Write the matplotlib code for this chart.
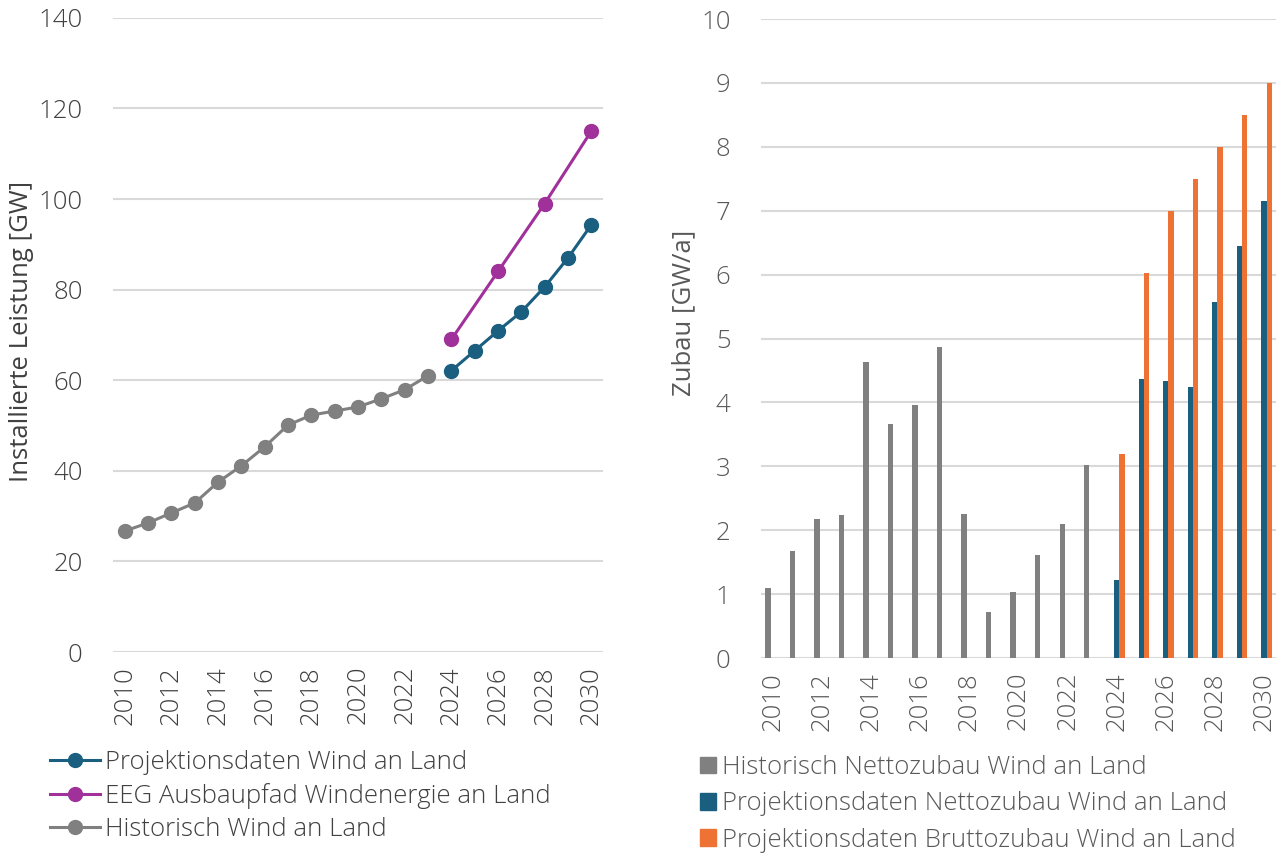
import matplotlib.pyplot as plt
from matplotlib.lines import Line2D
from matplotlib.patches import Patch

plt.rcParams['font.family'] = ['Open Sans', 'DejaVu Sans']
plt.rcParams['font.weight'] = 'light'

years_hist = list(range(2010, 2024))
years_proj = list(range(2024, 2031))
years_eeg = [2024, 2026, 2028, 2030]

hist_installed = [26.7, 28.5, 30.7, 32.9, 37.5, 41.1, 45.3, 50.1, 52.3, 53.2, 54.1, 55.9, 57.9, 61.0]
proj_installed = [62.1, 66.5, 70.9, 75.1, 80.6, 87.0, 94.3]
eeg_path = [69, 84, 99, 115]

hist_net = [1.10, 1.67, 2.18, 2.24, 4.63, 3.66, 3.96, 4.87, 2.25, 0.72, 1.03, 1.61, 2.10, 3.02]
proj_net = [1.22, 4.37, 4.34, 4.24, 5.57, 6.45, 7.15]
proj_gross = [3.2, 6.03, 7.0, 7.5, 8.0, 8.5, 9.0]

c_blue = '#1a5f80'
c_purple = '#a0309a'
c_gray = '#808080'
c_orange = '#ed7234'
c_grid = '#d9d9d9'
fs = 18.5

fig = plt.figure(figsize=(12.86, 8.57), dpi=100)

# left: installed capacity
ax1 = fig.add_axes([0.0879, 0.2392, 0.381, 0.740])
ax1.plot(years_hist, hist_installed, color=c_gray, lw=2.2, marker='o', ms=10, zorder=3)
ax1.plot(years_proj, proj_installed, color=c_blue, lw=2.2, marker='o', ms=10, zorder=3)
ax1.plot(years_eeg, eeg_path, color=c_purple, lw=2.2, marker='o', ms=10, zorder=3)
ax1.set_xlim(2009.5, 2030.5)
ax1.set_ylim(0, 140)
ax1.set_yticks(range(0, 141, 20))
ax1.set_xticks(range(2010, 2031, 2))
ax1.tick_params(axis='x', labelrotation=90, pad=10)
ax1.tick_params(axis='y', pad=22)
ax1.set_ylabel('Installierte Leistung [GW]', fontsize=fs, color='#404040')
ax1.yaxis.set_label_coords(-0.161, 0.506)
ax1.grid(axis='y', color=c_grid, lw=1.5)
ax1.set_axisbelow(True)
ax1.tick_params(length=0, labelsize=fs, labelcolor='#404040')
for s in ax1.spines.values():
    s.set_visible(False)

h1 = [Line2D([], [], color=c_blue, lw=2.2, marker='o', ms=10),
      Line2D([], [], color=c_purple, lw=2.2, marker='o', ms=10),
      Line2D([], [], color=c_gray, lw=2.2, marker='o', ms=10)]
fig.legend(h1, ['Projektionsdaten Wind an Land', 'EEG Ausbaupfad Windenergie an Land',
                'Historisch Wind an Land'],
           loc='upper left', bbox_to_anchor=(0.031, 0.137), frameon=False,
           fontsize=fs, handlelength=1.95, handletextpad=0.2, labelspacing=0.32,
           borderaxespad=0, labelcolor='#404040')

# right: annual additions
ax2 = fig.add_axes([0.5918, 0.2322, 0.4005, 0.7456])
w = 0.22
ax2.bar([y - w for y in years_hist], hist_net, width=w, color=c_gray)
ax2.bar(years_proj, proj_net, width=w, color=c_blue)
ax2.bar([y + w for y in years_proj], proj_gross, width=w, color=c_orange)
ax2.set_xlim(2009.5, 2030.5)
ax2.set_ylim(0, 10)
ax2.set_yticks(range(0, 11))
ax2.set_xticks(range(2010, 2031, 2))
ax2.tick_params(axis='x', labelrotation=90, pad=10)
ax2.tick_params(axis='y', pad=22)
ax2.set_ylabel('Zubau [GW/a]', fontsize=fs, color='#595959')
ax2.yaxis.set_label_coords(-0.125, 0.54)
ax2.grid(axis='y', color=c_grid, lw=1.5)
ax2.set_axisbelow(True)
ax2.tick_params(length=0, labelsize=fs, labelcolor='#595959')
for s in ax2.spines.values():
    s.set_visible(False)

h2 = [Patch(color=c_gray), Patch(color=c_blue), Patch(color=c_orange)]
fig.legend(h2, ['Historisch Nettozubau Wind an Land', 'Projektionsdaten Nettozubau Wind an Land',
                'Projektionsdaten Bruttozubau Wind an Land'],
           loc='upper left', bbox_to_anchor=(0.536, 0.131), frameon=False,
           fontsize=fs, handlelength=0.62, handleheight=0.62, handletextpad=0.27,
           labelspacing=0.44, borderaxespad=0, labelcolor='#595959')

fig.savefig('out.png', dpi=100)
